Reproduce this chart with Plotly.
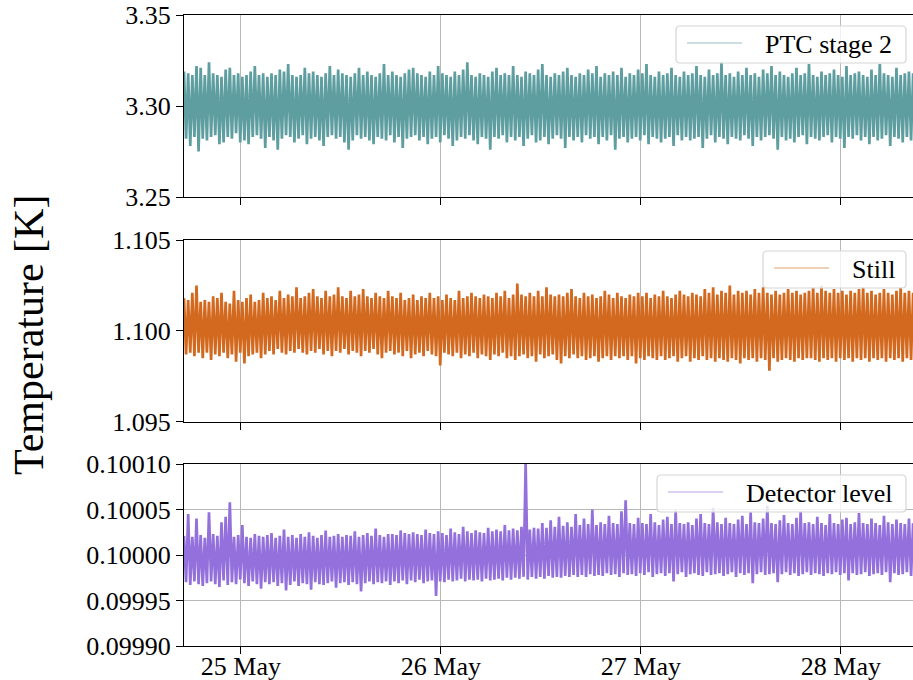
import pandas as pd
import plotly.graph_objects as go
from plotly.subplots import make_subplots

# Logged temperatures [K], one reading every 15 minutes from 24 May 17:10
start_time = "2023-05-24 17:10"
sample_step = "15min"

ptc_stage2 = [
    3.319, 3.282, 3.318, 3.278, 3.317, 3.283, 3.322, 3.275, 3.321, 3.282,
    3.317, 3.281, 3.324, 3.283, 3.318, 3.284, 3.317, 3.279, 3.316, 3.280,
    3.320, 3.283, 3.321, 3.282, 3.317, 3.285, 3.318, 3.280, 3.316, 3.281,
    3.317, 3.279, 3.319, 3.283, 3.322, 3.284, 3.317, 3.282, 3.318, 3.277,
    3.316, 3.283, 3.318, 3.281, 3.317, 3.276, 3.320, 3.282, 3.319, 3.284,
    3.323, 3.283, 3.317, 3.280, 3.316, 3.282, 3.317, 3.284, 3.321, 3.279,
    3.318, 3.282, 3.319, 3.283, 3.317, 3.281, 3.316, 3.278, 3.318, 3.283,
    3.322, 3.284, 3.317, 3.282, 3.320, 3.283, 3.318, 3.280, 3.317, 3.276,
    3.316, 3.281, 3.318, 3.284, 3.321, 3.282, 3.317, 3.283, 3.319, 3.281,
    3.317, 3.279, 3.316, 3.283, 3.318, 3.282, 3.323, 3.281, 3.317, 3.284,
    3.319, 3.280, 3.317, 3.283, 3.316, 3.277, 3.318, 3.282, 3.320, 3.283,
    3.321, 3.284, 3.318, 3.281, 3.317, 3.283, 3.316, 3.279, 3.319, 3.282,
    3.317, 3.283, 3.322, 3.280, 3.318, 3.284, 3.317, 3.282, 3.316, 3.278,
    3.319, 3.281, 3.317, 3.283, 3.320, 3.282, 3.324, 3.284, 3.317, 3.281,
    3.316, 3.279, 3.318, 3.283, 3.317, 3.282, 3.316, 3.276, 3.319, 3.283,
    3.321, 3.282, 3.317, 3.284, 3.318, 3.280, 3.317, 3.283, 3.322, 3.281,
    3.317, 3.283, 3.316, 3.278, 3.319, 3.282, 3.318, 3.284, 3.317, 3.280,
    3.320, 3.281, 3.323, 3.283, 3.317, 3.279, 3.316, 3.282, 3.318, 3.284,
    3.317, 3.282, 3.319, 3.277, 3.321, 3.283, 3.317, 3.281, 3.316, 3.283,
    3.318, 3.280, 3.317, 3.284, 3.320, 3.282, 3.318, 3.283, 3.322, 3.279,
    3.316, 3.283, 3.318, 3.281, 3.317, 3.284, 3.319, 3.276, 3.317, 3.282,
    3.321, 3.283, 3.316, 3.280, 3.318, 3.282, 3.317, 3.283, 3.320, 3.281,
    3.318, 3.284, 3.323, 3.279, 3.317, 3.283, 3.316, 3.282, 3.319, 3.280,
    3.317, 3.282, 3.318, 3.283, 3.321, 3.278, 3.317, 3.284, 3.316, 3.281,
    3.319, 3.283, 3.317, 3.281, 3.318, 3.282, 3.322, 3.283, 3.317, 3.277,
    3.316, 3.282, 3.320, 3.284, 3.317, 3.280, 3.318, 3.283, 3.324, 3.282,
    3.317, 3.279, 3.318, 3.283, 3.316, 3.282, 3.319, 3.281, 3.317, 3.284,
    3.321, 3.282, 3.317, 3.278, 3.318, 3.283, 3.316, 3.281, 3.320, 3.283,
    3.318, 3.284, 3.322, 3.282, 3.317, 3.276, 3.319, 3.283, 3.317, 3.281,
    3.316, 3.282, 3.318, 3.280, 3.321, 3.283, 3.317, 3.284, 3.318, 3.279,
    3.323, 3.283, 3.317, 3.282, 3.316, 3.281, 3.319, 3.283, 3.317, 3.284,
    3.318, 3.280, 3.320, 3.283, 3.317, 3.282, 3.316, 3.277, 3.322, 3.283,
    3.317, 3.282, 3.318, 3.284, 3.319, 3.281, 3.317, 3.283, 3.316, 3.279,
    3.320, 3.283, 3.317, 3.281, 3.323, 3.282, 3.318, 3.284, 3.317, 3.278,
    3.316, 3.283, 3.321, 3.282, 3.317, 3.280, 3.318, 3.283, 3.319, 3.281,
    3.318,
]

still = [
    1.1018, 1.0987, 1.1017, 1.0988, 1.1021, 1.0986, 1.1025, 1.0988, 1.1016, 1.0985,
    1.1017, 1.0988, 1.1016, 1.0984, 1.1019, 1.0987, 1.1018, 1.0986, 1.1021, 1.0988,
    1.1016, 1.0985, 1.1015, 1.0987, 1.1022, 1.0983, 1.1017, 1.0988, 1.1016, 1.0982,
    1.1018, 1.0986, 1.1020, 1.0987, 1.1016, 1.0988, 1.1017, 1.0985, 1.1021, 1.0987,
    1.1018, 1.0989, 1.1019, 1.0987, 1.1017, 1.0990, 1.1022, 1.0988, 1.1018, 1.0987,
    1.1020, 1.0989, 1.1019, 1.0988, 1.1024, 1.0990, 1.1018, 1.0988, 1.1019, 1.0987,
    1.1021, 1.0989, 1.1023, 1.0988, 1.1019, 1.0990, 1.1018, 1.0987, 1.1022, 1.0989,
    1.1019, 1.0986, 1.1020, 1.0989, 1.1024, 1.0988, 1.1019, 1.0990, 1.1018, 1.0987,
    1.1022, 1.0989, 1.1019, 1.0988, 1.1020, 1.0986, 1.1023, 1.0989, 1.1019, 1.0988,
    1.1018, 1.0990, 1.1021, 1.0987, 1.1019, 1.0985, 1.1018, 1.0988, 1.1022, 1.0989,
    1.1019, 1.0987, 1.1018, 1.0988, 1.1021, 1.0986, 1.1017, 1.0989, 1.1018, 1.0985,
    1.1020, 1.0987, 1.1017, 1.0988, 1.1019, 1.0986, 1.1018, 1.0989, 1.1021, 1.0987,
    1.1018, 1.0986, 1.1019, 1.0981, 1.1017, 1.0988, 1.1020, 1.0987, 1.1018, 1.0986,
    1.1017, 1.0988, 1.1022, 1.0985, 1.1018, 1.0987, 1.1019, 1.0986, 1.1021, 1.0988,
    1.1019, 1.0985, 1.1018, 1.0987, 1.1020, 1.0986, 1.1019, 1.0984, 1.1018, 1.0987,
    1.1021, 1.0986, 1.1019, 1.0988, 1.1022, 1.0985, 1.1018, 1.0986, 1.1020, 1.0984,
    1.1026, 1.0986, 1.1020, 1.0987, 1.1019, 1.0985, 1.1021, 1.0986, 1.1019, 1.0983,
    1.1022, 1.0987, 1.1019, 1.0985, 1.1024, 1.0986, 1.1020, 1.0987, 1.1019, 1.0984,
    1.1020, 1.0982, 1.1019, 1.0986, 1.1021, 1.0985, 1.1023, 1.0987, 1.1019, 1.0985,
    1.1018, 1.0986, 1.1021, 1.0984, 1.1019, 1.0985, 1.1020, 1.0986, 1.1018, 1.0983,
    1.1019, 1.0985, 1.1022, 1.0986, 1.1020, 1.0984, 1.1018, 1.0986, 1.1021, 1.0985,
    1.1019, 1.0986, 1.1018, 1.0984, 1.1020, 1.0986, 1.1019, 1.0982, 1.1021, 1.0985,
    1.1019, 1.0984, 1.1021, 1.0986, 1.1018, 1.0985, 1.1020, 1.0984, 1.1019, 1.0986,
    1.1022, 1.0984, 1.1019, 1.0985, 1.1018, 1.0986, 1.1020, 1.0983, 1.1022, 1.0985,
    1.1020, 1.0986, 1.1019, 1.0983, 1.1021, 1.0985, 1.1020, 1.0984, 1.1019, 1.0986,
    1.1023, 1.0984, 1.1021, 1.0985, 1.1024, 1.0983, 1.1020, 1.0985, 1.1022, 1.0984,
    1.1021, 1.0983, 1.1025, 1.0985, 1.1020, 1.0984, 1.1022, 1.0982, 1.1021, 1.0985,
    1.1022, 1.0984, 1.1020, 1.0985, 1.1023, 1.0983, 1.1021, 1.0985, 1.1024, 1.0984,
    1.1021, 1.0978, 1.1020, 1.0985, 1.1022, 1.0983, 1.1020, 1.0984, 1.1021, 1.0985,
    1.1023, 1.0984, 1.1021, 1.0983, 1.1022, 1.0985, 1.1020, 1.0984, 1.1021, 1.0985,
    1.1022, 1.0985, 1.1024, 1.0984, 1.1021, 1.0983, 1.1025, 1.0985, 1.1022, 1.0984,
    1.1021, 1.0985, 1.1023, 1.0983, 1.1021, 1.0985, 1.1022, 1.0984, 1.1020, 1.0985,
    1.1022, 1.0983, 1.1021, 1.0985, 1.1023, 1.0984, 1.1024, 1.0985, 1.1021, 1.0983,
    1.1022, 1.0985, 1.1020, 1.0984, 1.1021, 1.0985, 1.1023, 1.0983, 1.1021, 1.0985,
    1.1020, 1.0984, 1.1022, 1.0985, 1.1024, 1.0983, 1.1021, 1.0985, 1.1022, 1.0984,
    1.1021,
]

detector = [
    0.100021, 0.099970, 0.100045, 0.099967, 0.100020, 0.099971, 0.100040, 0.099968, 0.100022, 0.099966,
    0.100019, 0.099969, 0.100047, 0.099971, 0.100023, 0.099968, 0.100021, 0.099965, 0.100036, 0.099972,
    0.100042, 0.099967, 0.100058, 0.099970, 0.100020, 0.099968, 0.100022, 0.099973, 0.100033, 0.099969,
    0.100020, 0.099966, 0.100019, 0.099971, 0.100023, 0.099968, 0.100021, 0.099963, 0.100020, 0.099970,
    0.100022, 0.099968, 0.100024, 0.099970, 0.100019, 0.099966, 0.100021, 0.099969, 0.100028, 0.099961,
    0.100020, 0.099967, 0.100022, 0.099971, 0.100019, 0.099966, 0.100023, 0.099969, 0.100020, 0.099968,
    0.100025, 0.099962, 0.100021, 0.099970, 0.100019, 0.099968, 0.100022, 0.099967, 0.100027, 0.099969,
    0.100020, 0.099971, 0.100021, 0.099964, 0.100023, 0.099969, 0.100020, 0.099970, 0.100022, 0.099967,
    0.100021, 0.099970, 0.100026, 0.099968, 0.100020, 0.099960, 0.100022, 0.099969, 0.100024, 0.099971,
    0.100021, 0.099968, 0.100029, 0.099970, 0.100022, 0.099969, 0.100020, 0.099971, 0.100023, 0.099967,
    0.100023, 0.099971, 0.100022, 0.099969, 0.100027, 0.099972, 0.100024, 0.099968, 0.100023, 0.099972,
    0.100025, 0.099970, 0.100023, 0.099973, 0.100022, 0.099969, 0.100028, 0.099971, 0.100024, 0.099972,
    0.100023, 0.099955, 0.100026, 0.099971, 0.100024, 0.099970, 0.100022, 0.099973, 0.100029, 0.099971,
    0.100025, 0.099972, 0.100023, 0.099974, 0.100031, 0.099971, 0.100026, 0.099973, 0.100024, 0.099972,
    0.100027, 0.099973, 0.100025, 0.099971, 0.100024, 0.099974, 0.100030, 0.099972, 0.100026, 0.099973,
    0.100028, 0.099974, 0.100026, 0.099972, 0.100033, 0.099975, 0.100027, 0.099973, 0.100029, 0.099975,
    0.100027, 0.099974, 0.100031, 0.099976, 0.100100, 0.099973, 0.100028, 0.099976, 0.100030, 0.099974,
    0.100029, 0.099976, 0.100035, 0.099974, 0.100030, 0.099977, 0.100038, 0.099975, 0.100031, 0.099976,
    0.100042, 0.099975, 0.100032, 0.099977, 0.100036, 0.099976, 0.100031, 0.099978, 0.100045, 0.099976,
    0.100033, 0.099978, 0.100040, 0.099976, 0.100034, 0.099979, 0.100050, 0.099977, 0.100033, 0.099978,
    0.100036, 0.099977, 0.100034, 0.099980, 0.100043, 0.099978, 0.100035, 0.099979, 0.100034, 0.099976,
    0.100048, 0.099980, 0.100060, 0.099978, 0.100035, 0.099979, 0.100034, 0.099977, 0.100041, 0.099980,
    0.100035, 0.099978, 0.100034, 0.099981, 0.100045, 0.099976, 0.100036, 0.099979, 0.100033, 0.099980,
    0.100039, 0.099977, 0.100042, 0.099980, 0.100034, 0.099971, 0.100049, 0.099979, 0.100035, 0.099981,
    0.100034, 0.099976, 0.100036, 0.099979, 0.100033, 0.099980, 0.100040, 0.099978, 0.100045, 0.099977,
    0.100035, 0.099981, 0.100034, 0.099978, 0.100052, 0.099979, 0.100036, 0.099980, 0.100034, 0.099977,
    0.100041, 0.099979, 0.100035, 0.099981, 0.100034, 0.099976, 0.100039, 0.099980, 0.100043, 0.099978,
    0.100034, 0.099980, 0.100047, 0.099969, 0.100036, 0.099979, 0.100035, 0.099981, 0.100040, 0.099978,
    0.100054, 0.099979, 0.100035, 0.099980, 0.100034, 0.099970, 0.100038, 0.099979, 0.100044, 0.099981,
    0.100035, 0.099978, 0.100034, 0.099980, 0.100041, 0.099977, 0.100048, 0.099979, 0.100035, 0.099981,
    0.100036, 0.099978, 0.100034, 0.099980, 0.100042, 0.099979, 0.100035, 0.099977, 0.100033, 0.099980,
    0.100045, 0.099979, 0.100035, 0.099981, 0.100034, 0.099978, 0.100039, 0.099980, 0.100041, 0.099972,
    0.100034, 0.099980, 0.100036, 0.099978, 0.100046, 0.099979, 0.100035, 0.099981, 0.100034, 0.099977,
    0.100040, 0.099979, 0.100035, 0.099980, 0.100033, 0.099978, 0.100043, 0.099981, 0.100036, 0.099970,
    0.100034, 0.099980, 0.100039, 0.099978, 0.100035, 0.099979, 0.100034, 0.099981, 0.100040, 0.099977,
    0.100035,
]

series_names = ["PTC stage 2", "Still", "Detector level"]
series_values = [ptc_stage2, still, detector]
series_colors = ["#5F9EA0", "#D2691E", "#9370DB"]
legend_colors = ["rgba(95,158,160,0.65)", "rgba(210,105,30,0.65)", "rgba(147,112,219,0.65)"]

y_ranges = [[3.25, 3.35], [1.095, 1.105], [0.0999, 0.1001]]
y_steps = [0.05, 0.005, 0.00005]
y_formats = [".2f", ".3f", ".5f"]

date_ticks = ["2023-05-25", "2023-05-26", "2023-05-27", "2023-05-28"]
x_window = ["2023-05-24 17:10", "2023-05-28 08:39"]

FONT = "Liberation Serif"
W, H = 913, 680
M_L, M_R, M_T, M_B = 184, 0, 15, 34


def px_x(px):
    """Horizontal pixel position -> paper coordinate."""
    return (px - M_L) / (W - M_L - M_R)


def px_y(py):
    """Vertical pixel position (from top) -> paper coordinate."""
    return 1 - (py - M_T) / (H - M_T - M_B)


fig = make_subplots(rows=3, cols=1, shared_xaxes=True)

for k, (name, vals) in enumerate(zip(series_names, series_values)):
    t = pd.date_range(start_time, periods=len(vals), freq=sample_step)
    fig.add_trace(
        go.Scatter(
            x=t, y=vals, mode="lines", name=name, showlegend=False,
            line=dict(color=series_colors[k], width=2.7, simplify=False),
            hoverinfo="skip",
        ),
        row=k + 1, col=1,
    )

panel_px = [(15, 197), (240, 421.7), (464, 646)]
for k in range(3):
    top, bottom = panel_px[k]
    fig.update_yaxes(
        row=k + 1, col=1,
        domain=[px_y(bottom), px_y(top)], range=y_ranges[k],
        tick0=y_ranges[k][0], dtick=y_steps[k], tickformat=y_formats[k],
        showline=True, linecolor="black", linewidth=1.3,
        ticks="outside", ticklen=7, tickwidth=1.2, tickcolor="black",
        showgrid=True, gridcolor="#b8b8b8", gridwidth=1, zeroline=False,
        tickfont=dict(family=FONT, size=26, color="black"), automargin=False,
    )
    fig.update_xaxes(
        row=k + 1, col=1,
        type="date", range=x_window, tickvals=date_ticks, tickformat="%d %b",
        showticklabels=(k == 2), ticklabelstandoff=-10,
        showline=True, mirror=True, linecolor="black", linewidth=1.3,
        ticks="outside", ticklen=7, tickwidth=1.2, tickcolor="black",
        showgrid=True, gridcolor="#b8b8b8", gridwidth=1, zeroline=False,
        tickfont=dict(family=FONT, size=26, color="black"), automargin=False,
    )

# Legend boxes: frame (left, top, right, bottom), handle line span, text start
legend_frames = [(676, 26, 906, 63), (763, 251, 906, 288), (657, 475, 906, 512)]
legend_handles = [(687, 742), (774, 829), (668, 723)]
legend_text_x = [763, 850, 744]
RADIUS = 4


def rounded_rect(x0, y0, x1, y1, r):
    X = lambda v: px_x(v)
    Y = lambda v: px_y(v)
    return (
        f"M {X(x0 + r)},{Y(y0)} L {X(x1 - r)},{Y(y0)} Q {X(x1)},{Y(y0)} {X(x1)},{Y(y0 + r)} "
        f"L {X(x1)},{Y(y1 - r)} Q {X(x1)},{Y(y1)} {X(x1 - r)},{Y(y1)} "
        f"L {X(x0 + r)},{Y(y1)} Q {X(x0)},{Y(y1)} {X(x0)},{Y(y1 - r)} "
        f"L {X(x0)},{Y(y0 + r)} Q {X(x0)},{Y(y0)} {X(x0 + r)},{Y(y0)} Z"
    )


for k in range(3):
    x0, y0, x1, y1 = legend_frames[k]
    yc = (y0 + y1) / 2
    fig.add_shape(
        type="path", path=rounded_rect(x0, y0, x1, y1, RADIUS),
        xref="paper", yref="paper", layer="above",
        fillcolor="rgba(255,255,255,0.8)", line=dict(color="#d6d6d6", width=1.2),
    )
    hx0, hx1 = legend_handles[k]
    fig.add_shape(
        type="line", xref="paper", yref="paper", layer="above",
        x0=px_x(hx0), x1=px_x(hx1), y0=px_y(yc - 1.5), y1=px_y(yc - 1.5),
        line=dict(color=legend_colors[k], width=1.2),
    )
    fig.add_annotation(
        text=series_names[k], xref="paper", yref="paper",
        x=px_x(legend_text_x[k]), y=px_y(yc), xanchor="left", yanchor="middle",
        showarrow=False, font=dict(family=FONT, size=26, color="black"),
    )

fig.add_annotation(
    text="Temperature [K]", textangle=-90, xref="paper", yref="paper",
    x=px_x(29), y=px_y(335), xanchor="center", yanchor="middle", showarrow=False,
    font=dict(family=FONT, size=42, color="black"),
)

fig.update_layout(
    width=W, height=H,
    margin=dict(l=M_L, r=M_R, t=M_T, b=M_B),
    paper_bgcolor="white", plot_bgcolor="white",
    font=dict(family=FONT, color="black"),
    showlegend=False,
)

fig.write_html("out.html")
